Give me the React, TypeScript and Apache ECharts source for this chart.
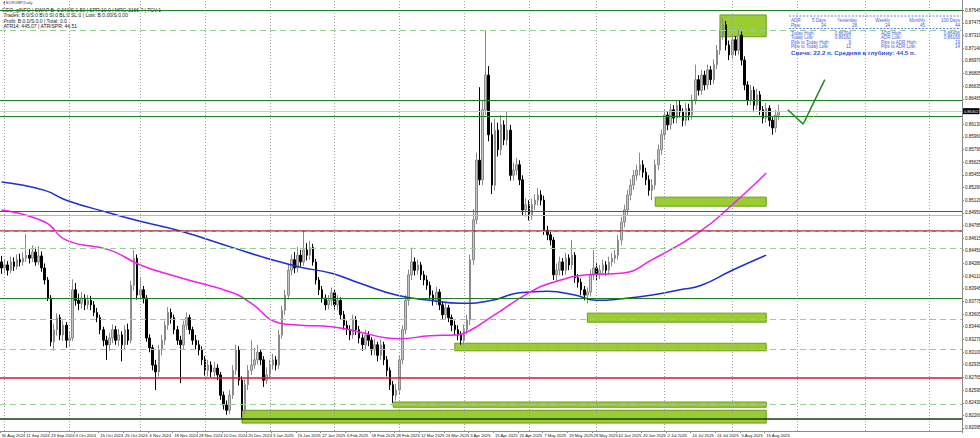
import React, { useEffect, useRef } from "react";
import * as echarts from "echarts";

const DATE_LABELS = ["30 Aug 2024","11 Sep 2024","23 Sep 2024","3 Oct 2024","15 Oct 2024","25 Oct 2024","6 Nov 2024","18 Nov 2024","28 Nov 2024","10 Dec 2024","20 Dec 2024","3 Jan 2025","15 Jan 2025","27 Jan 2025","6 Feb 2025","18 Feb 2025","28 Feb 2025","12 Mar 2025","24 Mar 2025","3 Apr 2025","15 Apr 2025","25 Apr 2025","7 May 2025","19 May 2025","29 May 2025","10 Jun 2025","20 Jun 2025","2 Jul 2025","14 Jul 2025","24 Jul 2025","5 Aug 2025","15 Aug 2025"];

const OPEN = [
0.8430,0.8422,0.8426,0.8419,0.8430,0.8424,0.8433,0.8430,0.8435,0.8439,
0.8435,0.8443,0.8430,0.8438,0.8422,0.8406,0.8382,0.8324,0.8340,0.8356,
0.8333,0.8346,0.8326,0.8329,0.8393,0.8379,0.8375,0.8382,0.8373,0.8379,
0.8373,0.8363,0.8356,0.8340,0.8326,0.8320,0.8329,0.8340,0.8326,0.8333,
0.8320,0.8340,0.8326,0.8399,0.8435,0.8386,0.8393,0.8382,0.8329,0.8316,
0.8293,0.8284,0.8313,0.8326,0.8346,0.8363,0.8356,0.8340,0.8326,0.8320,
0.8346,0.8356,0.8340,0.8326,0.8320,0.8313,0.8300,0.8286,0.8293,0.8284,
0.8289,0.8280,0.8253,0.8240,0.8233,0.8253,0.8286,0.8313,0.8273,0.8233,
0.8267,0.8286,0.8293,0.8300,0.8310,0.8300,0.8273,0.8280,0.8293,0.8300,
0.8293,0.8333,0.8366,0.8386,0.8419,0.8433,0.8422,0.8439,0.8430,0.8446,
0.8439,0.8449,0.8430,0.8406,0.8393,0.8382,0.8373,0.8379,0.8389,0.8373,
0.8379,0.8360,0.8346,0.8340,0.8333,0.8353,0.8340,0.8329,0.8320,0.8333,
0.8326,0.8313,0.8320,0.8306,0.8320,0.8300,0.8286,0.8267,0.8253,0.8260,
0.8300,0.8340,0.8379,0.8413,0.8430,0.8419,0.8426,0.8413,0.8406,0.8399,
0.8386,0.8379,0.8390,0.8373,0.8360,0.8369,0.8356,0.8346,0.8340,0.8333,
0.8326,0.8340,0.8353,0.8433,0.8486,0.8565,0.8539,0.8632,0.8678,0.8599,
0.8532,0.8605,0.8579,0.8612,0.8592,0.8605,0.8545,0.8552,0.8559,0.8539,
0.8499,0.8506,0.8492,0.8506,0.8512,0.8519,0.8512,0.8472,0.8466,0.8459,
0.8413,0.8419,0.8430,0.8419,0.8435,0.8426,0.8439,0.8409,0.8403,0.8393,
0.8386,0.8390,0.8413,0.8422,0.8413,0.8419,0.8426,0.8419,0.8430,0.8435,
0.8439,0.8459,0.8483,0.8499,0.8519,0.8532,0.8545,0.8552,0.8559,0.8549,
0.8539,0.8525,0.8532,0.8559,0.8579,0.8599,0.8625,0.8612,0.8632,0.8621,
0.8638,0.8629,0.8618,0.8634,0.8625,0.8645,0.8672,0.8658,0.8678,0.8665,
0.8685,0.8672,0.8692,0.8711,0.8731,0.8745,0.8718,0.8705,0.8725,0.8711,
0.8731,0.8698,0.8665,0.8645,0.8658,0.8638,0.8652,0.8632,0.8621,0.8634,
0.8618,0.8608,0.8625];

const CLOSE = [
0.8422,0.8426,0.8419,0.8430,0.8424,0.8433,0.8430,0.8435,0.8439,0.8435,
0.8443,0.8430,0.8438,0.8422,0.8406,0.8382,0.8324,0.8340,0.8356,0.8333,
0.8346,0.8326,0.8329,0.8393,0.8379,0.8375,0.8382,0.8373,0.8379,0.8373,
0.8363,0.8356,0.8340,0.8326,0.8320,0.8329,0.8340,0.8326,0.8333,0.8320,
0.8340,0.8326,0.8399,0.8435,0.8386,0.8393,0.8382,0.8329,0.8316,0.8293,
0.8284,0.8313,0.8326,0.8346,0.8363,0.8356,0.8340,0.8326,0.8320,0.8346,
0.8356,0.8340,0.8326,0.8320,0.8313,0.8300,0.8286,0.8293,0.8284,0.8289,
0.8280,0.8253,0.8240,0.8233,0.8253,0.8286,0.8313,0.8273,0.8233,0.8267,
0.8286,0.8293,0.8300,0.8310,0.8300,0.8273,0.8280,0.8293,0.8300,0.8293,
0.8333,0.8366,0.8386,0.8419,0.8433,0.8422,0.8439,0.8430,0.8446,0.8439,
0.8449,0.8430,0.8406,0.8393,0.8382,0.8373,0.8379,0.8389,0.8373,0.8379,
0.8360,0.8346,0.8340,0.8333,0.8353,0.8340,0.8329,0.8320,0.8333,0.8326,
0.8313,0.8320,0.8306,0.8320,0.8300,0.8286,0.8267,0.8253,0.8260,0.8300,
0.8340,0.8379,0.8413,0.8430,0.8419,0.8426,0.8413,0.8406,0.8399,0.8386,
0.8379,0.8390,0.8373,0.8360,0.8369,0.8356,0.8346,0.8340,0.8333,0.8326,
0.8340,0.8353,0.8433,0.8486,0.8565,0.8539,0.8632,0.8678,0.8599,0.8532,
0.8605,0.8579,0.8612,0.8592,0.8605,0.8545,0.8552,0.8559,0.8539,0.8499,
0.8506,0.8492,0.8506,0.8512,0.8519,0.8512,0.8472,0.8466,0.8459,0.8413,
0.8419,0.8430,0.8419,0.8435,0.8426,0.8439,0.8409,0.8403,0.8393,0.8386,
0.8390,0.8413,0.8422,0.8413,0.8419,0.8426,0.8419,0.8430,0.8435,0.8439,
0.8459,0.8483,0.8499,0.8519,0.8532,0.8545,0.8552,0.8559,0.8549,0.8539,
0.8525,0.8532,0.8559,0.8579,0.8599,0.8625,0.8612,0.8632,0.8621,0.8638,
0.8629,0.8618,0.8634,0.8625,0.8645,0.8672,0.8658,0.8678,0.8665,0.8685,
0.8672,0.8692,0.8711,0.8731,0.8745,0.8718,0.8705,0.8725,0.8711,0.8731,
0.8698,0.8665,0.8645,0.8658,0.8638,0.8652,0.8632,0.8621,0.8634,0.8618,
0.8608,0.8625,0.8630];

const HIGH = [
0.8438,0.8434,0.8431,0.8437,0.8436,0.8440,0.8441,0.8443,0.8467,0.8447,
0.8452,0.8449,0.8451,0.8444,0.8428,0.8410,0.8386,0.8348,0.8362,0.8360,
0.8352,0.8350,0.8338,0.8407,0.8402,0.8388,0.8390,0.8387,0.8386,0.8385,
0.8378,0.8369,0.8360,0.8344,0.8332,0.8336,0.8347,0.8345,0.8341,0.8338,
0.8346,0.8348,0.8405,0.8446,0.8440,0.8410,0.8398,0.8386,0.8334,0.8320,
0.8300,0.8320,0.8333,0.8352,0.8370,0.8368,0.8360,0.8345,0.8332,0.8352,
0.8363,0.8360,0.8344,0.8333,0.8326,0.8318,0.8305,0.8300,0.8298,0.8297,
0.8294,0.8284,0.8258,0.8246,0.8260,0.8293,0.8320,0.8318,0.8278,0.8274,
0.8293,0.8326,0.8316,0.8320,0.8314,0.8305,0.8290,0.8300,0.8308,0.8305,
0.8340,0.8372,0.8393,0.8426,0.8440,0.8443,0.8450,0.8446,0.8472,0.8455,
0.8458,0.8454,0.8434,0.8410,0.8398,0.8387,0.8386,0.8396,0.8393,0.8386,
0.8383,0.8365,0.8352,0.8346,0.8360,0.8358,0.8345,0.8334,0.8340,0.8338,
0.8330,0.8328,0.8324,0.8327,0.8324,0.8305,0.8290,0.8272,0.8268,0.8306,
0.8346,0.8386,0.8420,0.8449,0.8436,0.8433,0.8430,0.8418,0.8412,0.8404,
0.8392,0.8397,0.8394,0.8378,0.8376,0.8373,0.8360,0.8352,0.8346,0.8338,
0.8347,0.8360,0.8440,0.8500,0.8575,0.8662,0.8645,0.8738,0.8690,0.8615,
0.8620,0.8615,0.8625,0.8618,0.8630,0.8612,0.8562,0.8568,0.8565,0.8545,
0.8515,0.8512,0.8514,0.8520,0.8528,0.8525,0.8518,0.8478,0.8472,0.8463,
0.8428,0.8437,0.8435,0.8442,0.8440,0.8459,0.8443,0.8414,0.8408,0.8398,
0.8396,0.8420,0.8446,0.8428,0.8426,0.8433,0.8431,0.8437,0.8442,0.8446,
0.8466,0.8490,0.8506,0.8526,0.8540,0.8552,0.8559,0.8575,0.8565,0.8555,
0.8545,0.8540,0.8566,0.8586,0.8606,0.8632,0.8630,0.8640,0.8638,0.8645,
0.8644,0.8634,0.8641,0.8640,0.8652,0.8692,0.8678,0.8685,0.8684,0.8692,
0.8690,0.8699,0.8718,0.8738,0.8754,0.8750,0.8724,0.8732,0.8730,0.8738,
0.8736,0.8703,0.8670,0.8665,0.8663,0.8660,0.8657,0.8637,0.8641,0.8638,
0.8622,0.8632,0.8639];

const LOW = [
0.8414,0.8415,0.8412,0.8415,0.8418,0.8420,0.8424,0.8425,0.8430,0.8428,
0.8430,0.8425,0.8426,0.8417,0.8400,0.8378,0.8318,0.8312,0.8332,0.8326,
0.8325,0.8316,0.8318,0.8325,0.8372,0.8366,0.8368,0.8366,0.8367,0.8366,
0.8358,0.8350,0.8334,0.8318,0.8300,0.8312,0.8322,0.8320,0.8318,0.8298,
0.8314,0.8320,0.8322,0.8392,0.8380,0.8380,0.8375,0.8324,0.8310,0.8286,
0.8260,0.8278,0.8306,0.8320,0.8340,0.8348,0.8334,0.8320,0.8269,0.8314,
0.8340,0.8334,0.8320,0.8313,0.8306,0.8293,0.8279,0.8278,0.8277,0.8278,
0.8273,0.8247,0.8234,0.8227,0.8228,0.8248,0.8280,0.8266,0.8223,0.8228,
0.8260,0.8280,0.8288,0.8294,0.8293,0.8264,0.8268,0.8275,0.8287,0.8286,
0.8288,0.8328,0.8360,0.8380,0.8412,0.8415,0.8416,0.8424,0.8425,0.8432,
0.8433,0.8425,0.8400,0.8386,0.8376,0.8366,0.8367,0.8372,0.8367,0.8366,
0.8354,0.8340,0.8333,0.8326,0.8328,0.8333,0.8322,0.8312,0.8314,0.8318,
0.8306,0.8306,0.8298,0.8300,0.8293,0.8278,0.8260,0.8243,0.8246,0.8254,
0.8294,0.8334,0.8372,0.8406,0.8412,0.8413,0.8406,0.8399,0.8393,0.8380,
0.8372,0.8373,0.8366,0.8354,0.8353,0.8350,0.8338,0.8333,0.8326,0.8320,
0.8320,0.8334,0.8346,0.8426,0.8480,0.8532,0.8532,0.8625,0.8590,0.8520,
0.8525,0.8570,0.8572,0.8585,0.8585,0.8538,0.8538,0.8545,0.8532,0.8492,
0.8490,0.8485,0.8486,0.8499,0.8505,0.8505,0.8466,0.8459,0.8452,0.8406,
0.8405,0.8412,0.8412,0.8413,0.8419,0.8420,0.8402,0.8396,0.8386,0.8379,
0.8375,0.8384,0.8406,0.8406,0.8407,0.8412,0.8412,0.8413,0.8424,0.8428,
0.8433,0.8452,0.8476,0.8492,0.8512,0.8526,0.8538,0.8545,0.8542,0.8532,
0.8518,0.8512,0.8526,0.8552,0.8572,0.8592,0.8605,0.8606,0.8614,0.8614,
0.8622,0.8610,0.8611,0.8618,0.8619,0.8639,0.8651,0.8652,0.8658,0.8659,
0.8665,0.8666,0.8686,0.8705,0.8725,0.8711,0.8698,0.8699,0.8704,0.8705,
0.8691,0.8658,0.8638,0.8638,0.8631,0.8632,0.8625,0.8614,0.8615,0.8610,
0.8599,0.8602,0.8618];

// moving averages read at sample bars: [bar index, value]
const MA_BLUE = [[0,0.8536],[14,0.8525],[21,0.8512],[35,0.8495],[45,0.8484],[58,0.8471],[75,0.8449],[86,0.8435],[97,0.8423],[107,0.8415],[116,0.8402],[128,0.8386],[139,0.8379],[149,0.8375],[159,0.8379],[168,0.8389],[177,0.8391],[186,0.8386],[193,0.8379],[201,0.8381],[211,0.8386],[220,0.8393],[227,0.8399],[237,0.8419],[248,0.8439]];
const MA_MAGENTA = [[0,0.8499],[14,0.8483],[21,0.8459],[35,0.8446],[45,0.8426],[58,0.8409],[75,0.8389],[81,0.8375],[90,0.8349],[97,0.8346],[107,0.8344],[116,0.8337],[125,0.8329],[129,0.8328],[139,0.8332],[147,0.8333],[151,0.8337],[160,0.8360],[171,0.8389],[179,0.8403],[190,0.8413],[201,0.8415],[211,0.8433],[227,0.8472],[237,0.8506],[248,0.8548]];

const PRICE_TICKS = [0.87645,0.87475,0.87310,0.87140,0.86970,0.86805,0.86635,0.86465,0.86130,0.85960,0.85795,0.85625,0.85455,0.85290,0.85120,0.84950,0.84785,0.84615,0.84450,0.84280,0.84110,0.83945,0.83775,0.83605,0.83440,0.83270,0.83100,0.82935,0.82765,0.82595,0.82430,0.82260,0.82095];
const Y_MIN = 0.82055;
const Y_MAX = 0.87778;

const SOLID_LEVELS = [0.87645, 0.8645, 0.86238, 0.84976, 0.83821];
const LIGHT_LEVELS = [0.84923];
const DASHED_LEVELS = [0.8737, 0.84485, 0.83542, 0.83143, 0.82413];
const RED_LEVELS = [0.8471];
const CRIMSON_LEVELS = [0.82758];
const DARK_LEVELS = [0.82214];
const CURRENT_PRICE = 0.86302;

// [start bar, end bar, top price, bottom price]
const ZONES = [
  [233, 248, 0.8758, 0.8729],
  [212, 248, 0.8516, 0.8504],
  [190, 248, 0.8362, 0.8350],
  [147, 248, 0.8322, 0.8312],
  [127, 248, 0.8244, 0.8237],
  [78, 248, 0.8233, 0.8216],
];

const GRID_BARS = [1, 22, 45, 66, 87, 108, 129, 150, 171, 193, 215, 237, 258, 280, 301];
const FORECAST_SOLID = [[255, 0.8632], [260, 0.8613], [267, 0.8672]];
const FORECAST_DASHED = [[260, 0.8613], [265, 0.8628]];
const SLOT_COUNT = 312;

const INFO_LINES = [
  "GEO_gINFO | SWAP B:-0.340/S:1.50 | SPR:10.0 | MRG:3166.7 | TCV:1",
  ":Trades: B:0/S:0 Bl:0 Sl:0 BL:0 SL:0 | Lots: B:0.00/S:0.00",
  ":Profit: B:0.0/S:0.0 | Total: 0.0",
  ":ATR14: 445.07 | ATR/SPR: 44.51",
];
const ADR_HEADERS = ["5 Days", "Yesterday", "Weekly", "Monthly", "100 Days"];
const ADR_PIPS = ["34", "28", "34", "45", "44"];
const LEFT_STATS = [["Today High:", "0.86394"], ["Today Low:", "0.86182"], ["Pips to Today High:", "9"], ["Pips to Today Low:", "12"]];
const RIGHT_STATS = [["ADR High:", "0.86496"], ["ADR Low:", "0.86166"], ["Pips to ADR High:", "19"], ["Pips to ADR Low:", "14"]];
const CANDLE_TEXT = "Свеча: 22.2 п. Средняя в глубину: 44.5 п.";

export default function App() {
  const ref = useRef<HTMLDivElement>(null);
  useEffect(() => {
    const chart = echarts.init(ref.current!, null, { renderer: "svg" });
    const font = "Liberation Sans, Arial, sans-serif";
    const cats = Array.from({ length: SLOT_COUNT }, (_, i) => String(i));
    const candles = CLOSE.map((c, i) => [OPEN[i], c, LOW[i], HIGH[i]]);
    const isLabel = (i: number) => i % 8 === 0 && i / 8 < DATE_LABELS.length;
    const lv = (v: number, color: string, type: any, width: number) => ({ yAxis: v, lineStyle: { color, type, width } });

    const blue = "#3f63d8";
    const tf = 4.5;
    const graphics: any[] = [];
    graphics.push({ type: "text", left: 3, top: 0, style: { text: "▾ EURGBP,Daily", fontSize: 4, fill: "#444", fontFamily: font } });
    INFO_LINES.forEach((t, k) => {
      graphics.push({ type: "text", left: 2, top: 7.5 + k * 5.3, style: { text: t, fontSize: 5, fill: "#222", fontFamily: font } });
    });
    const L0 = 791;
    const colRight = [826, 857, 890, 925, 960];
    graphics.push({ type: "text", x: L0, y: 17.6, style: { text: "ADR:", fontSize: tf, fill: blue, fontFamily: font } });
    graphics.push({ type: "text", x: L0, y: 22.6, style: { text: "Pips:", fontSize: tf, fill: blue, fontFamily: font } });
    ADR_HEADERS.forEach((h, k) => {
      graphics.push({ type: "text", x: colRight[k], y: 17.6, style: { text: h, fontSize: tf, fill: blue, align: "right", fontFamily: font } });
      graphics.push({ type: "text", x: colRight[k], y: 22.6, style: { text: ADR_PIPS[k], fontSize: tf, fill: blue, align: "right", fontFamily: font } });
    });
    LEFT_STATS.forEach(([a, b], k) => {
      graphics.push({ type: "text", x: L0, y: 30.5 + k * 4.5, style: { text: a, fontSize: tf, fill: blue, fontFamily: font } });
      graphics.push({ type: "text", x: 851, y: 30.5 + k * 4.5, style: { text: b, fontSize: tf, fill: blue, align: "right", fontFamily: font } });
    });
    RIGHT_STATS.forEach(([a, b], k) => {
      graphics.push({ type: "text", x: 881, y: 30.5 + k * 4.5, style: { text: a, fontSize: tf, fill: blue, fontFamily: font } });
      graphics.push({ type: "text", x: 960, y: 30.5 + k * 4.5, style: { text: b, fontSize: tf, fill: blue, align: "right", fontFamily: font } });
    });
    graphics.push({ type: "line", shape: { x1: 789, y1: 16, x2: 961, y2: 16 }, style: { stroke: blue, lineWidth: 0.8, lineDash: [2, 1.5] } });
    graphics.push({ type: "line", shape: { x1: 789, y1: 28.5, x2: 961, y2: 28.5 }, style: { stroke: blue, lineWidth: 0.8, lineDash: [2, 1.5] } });
    graphics.push({ type: "text", x: L0, y: 49, style: { text: CANDLE_TEXT, fontSize: 6.2, fontWeight: "bold", fill: "#2f4fd0", fontFamily: font } });

    const option: any = {
      animation: false,
      backgroundColor: "#ffffff",
      textStyle: { fontFamily: font },
      grid: { left: 0, right: 18, top: 0, bottom: 7, outerBoundsMode: "none" },
      xAxis: {
        type: "category",
        data: cats,
        boundaryGap: true,
        axisLine: { show: true, lineStyle: { color: "#8a8a8a", width: 1 } },
        axisTick: { show: true, interval: (i: number) => isLabel(i), length: 2, lineStyle: { color: "#8a8a8a" } },
        axisLabel: {
          show: true,
          showMinLabel: true,
          hideOverlap: false,
          interval: (i: number) => isLabel(i),
          formatter: (v: string) => { const i = Number(v); return isLabel(i) ? DATE_LABELS[i / 8] : ""; },
          fontSize: 4.2, color: "#111", margin: 2, align: "left",
        },
        splitLine: { show: false },
      },
      yAxis: {
        type: "value",
        position: "right",
        min: Y_MIN,
        max: Y_MAX,
        axisLine: { show: true, onZero: false, lineStyle: { color: "#8a8a8a" } },
        axisTick: { show: true, customValues: PRICE_TICKS, length: 2, lineStyle: { color: "#8a8a8a" } },
        axisLabel: { show: true, customValues: PRICE_TICKS, formatter: (v: number) => v.toFixed(5), fontSize: 4.5, color: "#111", margin: 3 },
        splitLine: { show: false },
      },
      series: [
        {
          name: "grid", type: "line", data: [], z: 0, silent: true,
          markLine: {
            silent: true, symbol: ["none", "none"], label: { show: false },
            lineStyle: { color: "#a0a0a0", type: [1, 2], width: 1 },
            data: GRID_BARS.map((b) => ({ xAxis: b })),
          },
        },
        {
          name: "zones", type: "line", data: [], z: 1, silent: true,
          markArea: {
            silent: true,
            label: { show: false },
            itemStyle: { color: "#9acd32", borderColor: "#6e9a1e", borderWidth: 1 },
            data: ZONES.map(([s, e, t, b]) => [{ coord: [s, t] }, { coord: [e, b] }]),
          },
        },
        {
          name: "levels", type: "line", data: [], z: 2, silent: true,
          markLine: {
            silent: true, symbol: ["none", "none"], label: { show: false }, precision: 5,
            data: [
              ...SOLID_LEVELS.map((v) => lv(v, "#1e7d1e", "solid", 1.2)),
              ...LIGHT_LEVELS.map((v) => lv(v, "#8fd68f", "solid", 1.2)),
              ...DASHED_LEVELS.map((v) => lv(v, "#93cf93", [6, 4], 1.2)),
              ...RED_LEVELS.map((v) => lv(v, "#a8323a", "solid", 1.6)),
              ...RED_LEVELS.map((v) => lv(v, "#e4a4a4", [5, 4], 0.8)),
              ...CRIMSON_LEVELS.map((v) => lv(v, "#dc143c", "solid", 1.5)),
              ...DARK_LEVELS.map((v) => lv(v, "#1c3a10", "solid", 1.5)),
              {
                yAxis: CURRENT_PRICE,
                lineStyle: { color: "#c8c8c8", type: "solid", width: 1 },
                label: { show: true, position: "end", formatter: CURRENT_PRICE.toFixed(5), backgroundColor: "#000", color: "#fff", fontSize: 4, padding: [1, 1], distance: 1 },
              },
            ],
          },
        },
        {
          name: "EURGBP", type: "candlestick", data: candles, z: 3, barWidth: 2,
          itemStyle: { color: "#c6c6c6", color0: "#000000", borderColor: "#8a8a8a", borderColor0: "#000000", borderWidth: 1 },
        },
        {
          name: "MA slow", type: "line", data: MA_BLUE, smooth: true, symbol: "none", z: 4,
          lineStyle: { color: "#1d2fd3", width: 1.5 },
        },
        {
          name: "MA fast", type: "line", data: MA_MAGENTA, smooth: true, symbol: "none", z: 4,
          lineStyle: { color: "#f01ef0", width: 1.5 },
        },
        {
          name: "forecast", type: "line", z: 5, silent: true,
          symbol: "circle", symbolSize: 0, showSymbol: true,
          lineStyle: { color: "#1e8c1e", width: 1.5 },
          itemStyle: { color: "#1e8c1e" },
          data: FORECAST_SOLID.map((p, k) =>
            k === FORECAST_SOLID.length - 1
              ? { value: p, symbol: "arrow", symbolSize: [5, 7], symbolRotate: -27 }
              : { value: p }
          ),
        },
        {
          name: "forecast alt", type: "line", z: 5, silent: true, symbol: "none",
          lineStyle: { color: "#8fd68f", width: 1, type: [2, 2] },
          data: FORECAST_DASHED,
        },
      ],
      graphic: graphics,
    };
    chart.setOption(option);
    return () => chart.dispose();
  }, []);
  return <div ref={ref} style={{ position: "absolute", left: 0, top: 0, width: 980, height: 438, background: "#fff" }} />;
}
